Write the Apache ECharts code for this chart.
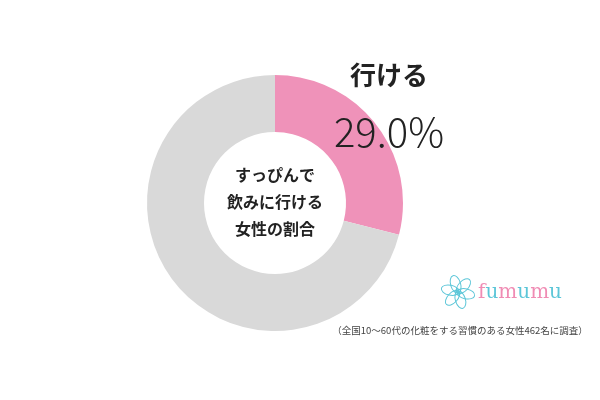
<!DOCTYPE html>
<html>
<head>
<meta charset="utf-8">
<script src="https://cdn.jsdelivr.net/npm/echarts@6/dist/echarts.min.js"></script>
<style>
  html, body { margin: 0; padding: 0; background: #fff; }
  #main { width: 600px; height: 400px; }
</style>
</head>
<body>
<div id="main"></div>
<script>
// data
var names = ['行ける', '行けない'];
var values = [29.0, 71.0];
var colors = ['#EF92B9', '#D9D9D9'];
var centerLines = ['すっぴんで', '飲みに行ける', '女性の割合'];
var note = '（全国10～60代の化粧をする習慣のある女性462名に調査）';
var logoParts = ['f', 'u', 'm', 'u', 'm', 'u'];

var jp = '"Noto Sans CJK JP", "Noto Sans", sans-serif';

var serdata = [];
for (var i = 0; i < names.length; i++) {
    serdata.push({ name: names[i], value: values[i], itemStyle: { color: colors[i] } });
}

// logo text, letters alternate pink / cyan
var logoText = '';
for (var j = 0; j < logoParts.length; j++) {
    logoText += '{' + (j % 2 ? 'c' : 'p') + '|' + logoParts[j] + '}';
}

// flower-ish logo icon
var petals = [];
for (var k = 0; k < 6; k++) {
    petals.push({
        type: 'ellipse',
        x: 458, y: 292,
        z: 100,
        rotation: k * Math.PI / 3 + 0.3,
        shape: { cx: 0, cy: -8, rx: 5, ry: 9 },
        style: { fill: 'none', stroke: '#5CC6D8', lineWidth: 1 }
    });
}
petals.push({
    type: 'circle',
    z: 100,
    shape: { cx: 458, cy: 292, r: 3 },
    style: { fill: 'none', stroke: '#5CC6D8', lineWidth: 1 }
});

var option = {
    animation: false,
    backgroundColor: '#fff',
    series: [{
        type: 'pie',
        z: 1,
        center: [275, 203],
        radius: [71, 128],
        startAngle: 90,
        clockwise: true,
        silent: true,
        label: { show: false },
        labelLine: { show: false },
        data: serdata
    }],
    graphic: [
        {
            type: 'text', x: 275, y: 202, z: 100,
            style: {
                text: centerLines.join('\n'),
                font: 'bold 16px ' + jp,
                lineHeight: 27,
                fill: '#222',
                align: 'center', verticalAlign: 'middle'
            }
        },
        {
            type: 'text', x: 389, y: 75, z: 100,
            style: {
                text: names[0],
                font: 'bold 26px ' + jp,
                fill: '#222',
                align: 'center', verticalAlign: 'middle'
            }
        },
        {
            type: 'text', x: 389, y: 132, z: 100,
            style: {
                text: values[0].toFixed(1) + '%',
                font: '300 40px ' + jp,
                fill: '#222',
                align: 'center', verticalAlign: 'middle'
            }
        },
        {
            type: 'text', x: 478, y: 293, z: 100,
            style: {
                text: logoText,
                rich: {
                    p: { fill: '#F08CB4', font: '20px "DejaVu Serif", serif' },
                    c: { fill: '#5CC6D8', font: '20px "DejaVu Serif", serif' }
                },
                align: 'left', verticalAlign: 'middle'
            }
        },
        {
            type: 'text', x: 460, y: 330, z: 100,
            style: {
                text: note,
                font: '9.5px ' + jp,
                fill: '#444',
                align: 'center', verticalAlign: 'middle'
            }
        }
    ].concat(petals)
};

echarts.init(document.getElementById('main')).setOption(option);
</script>
</body>
</html>
